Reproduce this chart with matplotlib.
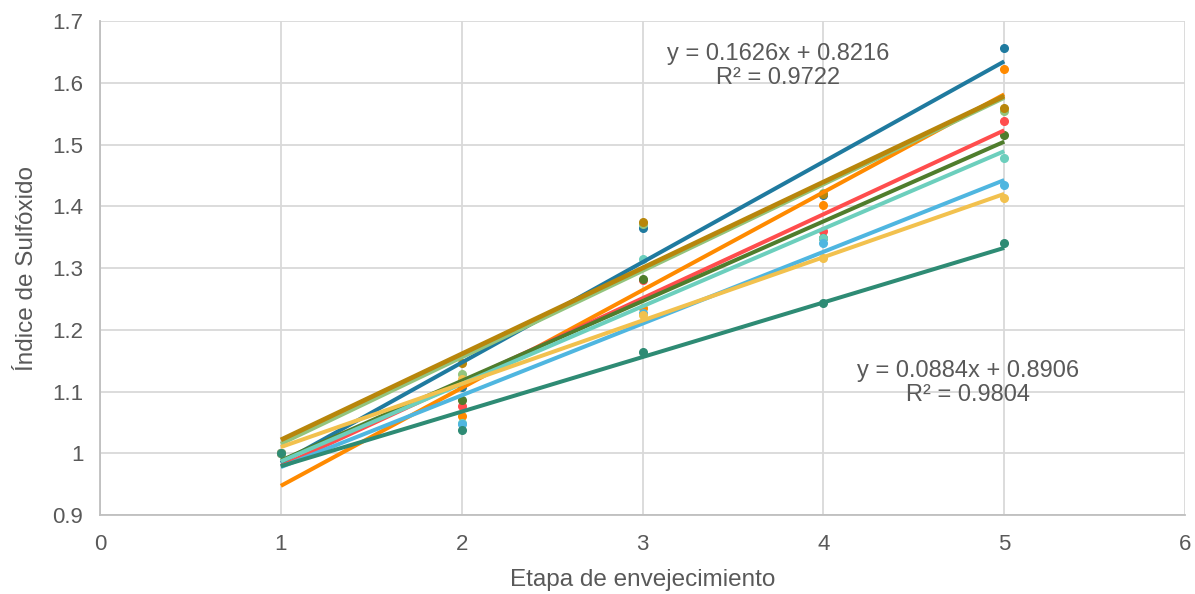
import numpy as np
import matplotlib.pyplot as plt

plt.rcParams['font.family'] = ['Liberation Sans', 'DejaVu Sans']

etapas = [1, 2, 3, 4, 5]

# índice de sulfóxido por muestra (normalizado a la etapa 1)
muestras = {
    'M1': [1.000, 1.107, 1.364, 1.419, 1.657],
    'M2': [1.000, 1.061, 1.236, 1.402, 1.622],
    'M4': [1.000, 1.129, 1.372, 1.422, 1.554],
    'M3': [1.000, 1.146, 1.375, 1.420, 1.559],
    'M5': [1.000, 1.076, 1.281, 1.360, 1.538],
    'M6': [1.000, 1.087, 1.282, 1.348, 1.515],
    'M7': [1.000, 1.049, 1.314, 1.349, 1.478],
    'M8': [1.000, 1.048, 1.227, 1.340, 1.435],
    'M9': [1.000, 1.120, 1.224, 1.317, 1.414],
    'M10': [1.000, 1.037, 1.164, 1.244, 1.341],
}
colores = ['#1f7a9f', '#ff8a00', '#93c47d', '#b8860b', '#ff4d4d',
           '#4f7d2c', '#6ccfbd', '#4fb6e0', '#f2c14e', '#2e8b74']

# ecuaciones mostradas en el gráfico
ecuaciones = {
    'M1': (0.1626, 0.8216, 0.9722),
    'M10': (0.0884, 0.8906, 0.9804),
}
pos_ecuaciones = {'M1': (3.75, 1.627), 'M10': (4.80, 1.114)}

fig = plt.figure(figsize=(11.95, 5.94), dpi=100)
ax = fig.add_axes([0.0837, 0.133, 0.908, 0.8316])

x = np.array(etapas)
xl = np.array([1, 5])
for (nombre, vals), c in zip(muestras.items(), colores):
    ax.plot(x, vals, 'o', color=c, markersize=5.5, zorder=2)
    if nombre in ecuaciones:
        m, b, r2 = ecuaciones[nombre]
    else:
        m, b = np.polyfit(x, vals, 1)
    lw = 3.4 if nombre == 'M3' else 2.9
    ax.plot(xl, m * xl + b, '-', color=c, linewidth=lw,
            solid_capstyle='butt', zorder=3)

for nombre, (m, b, r2) in ecuaciones.items():
    tx, ty = pos_ecuaciones[nombre]
    ax.text(tx, ty, f'y = {m:.4f}x + {b:.4f}\nR² = {r2:.4f}',
            ha='center', va='center', fontsize=17, color='#595959',
            linespacing=1.1, zorder=5)

ax.set_xlim(0, 6)
ax.set_ylim(0.9, 1.7)
ax.set_xticks(range(0, 7))
ax.set_yticks(np.round(np.arange(0.9, 1.71, 0.1), 1))
ax.set_yticklabels(['0.9', '1', '1.1', '1.2', '1.3', '1.4', '1.5', '1.6', '1.7'])
ax.grid(True, color='#d9d9d9', linewidth=1.3, zorder=0)
ax.set_axisbelow(True)
for s in ['top', 'right']:
    ax.spines[s].set_visible(False)
ax.spines['left'].set_color('#bfbfbf')
ax.spines['bottom'].set_color('#bfbfbf')
ax.spines['left'].set_linewidth(1.3)
ax.spines['bottom'].set_linewidth(1.3)
ax.tick_params(axis='y', length=0, labelsize=16, labelcolor='#595959', pad=12)
ax.tick_params(axis='x', length=0, labelsize=16, labelcolor='#595959', pad=14)

ax.set_xlabel('Etapa de envejecimiento', fontsize=17.5, color='#595959', labelpad=10)
ax.set_ylabel('Índice de Sulfóxido', fontsize=17.5, color='#595959', labelpad=10)

fig.savefig('out.png', dpi=100, facecolor='white')
